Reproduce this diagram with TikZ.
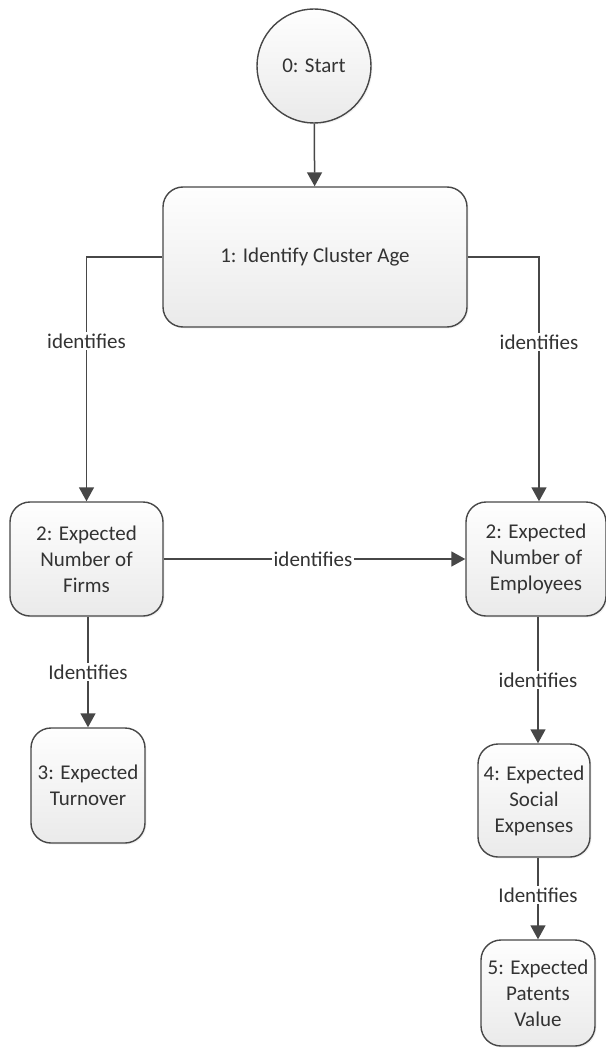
\documentclass[tikz,border=0pt]{standalone}
\usepackage{fontspec}
\setmainfont{Carlito}
\usetikzlibrary{arrows.meta,shadows}

\definecolor{ink}{HTML}{333333}
\definecolor{edge}{HTML}{474747}
\definecolor{boxtop}{HTML}{FEFEFE}
\definecolor{boxbot}{HTML}{EAEAEA}

\tikzset{
  procbox/.style={draw=edge, line width=1.4pt, rounded corners=20pt,
    top color=boxtop, bottom color=boxbot, text=ink,
    align=center, inner sep=2pt,
    font=\fontsize{21}{26}\selectfont,
    drop shadow={opacity=0.10, shadow xshift=1.5pt, shadow yshift=-1.5pt}},
  startnode/.style={procbox, circle, rounded corners=0pt},
  link/.style={draw=edge, line width=1.5pt,
    -{Triangle[length=14pt,width=15pt]}},
  linklabel/.style={fill=white, text=ink, inner sep=1.5pt,
    font=\fontsize{21}{26}\selectfont}
}

\begin{document}
\begin{tikzpicture}[x=1pt,y=-1pt]
  \useasboundingbox (0,0) rectangle (605,1048);

  % process steps
  \node[startnode, minimum size=114pt] (s0) at (314,66) {0: Start};
  \node[procbox, minimum width=304pt, minimum height=140pt] (b1) at (315,257) {1: Identify Cluster Age};
  \node[procbox, minimum width=153pt, minimum height=114pt] (firms) at (86.5,559) {2: Expected\\Number of\\Firms};
  \node[procbox, minimum width=140pt, minimum height=114pt] (empl) at (536,559) {2: Expected\\Number of\\Employees};
  \node[procbox, minimum width=114pt, minimum height=115pt] (turn) at (88,785.5) {3: Expected\\Turnover};
  \node[procbox, minimum width=112pt, minimum height=113pt] (social) at (534,800.5) {4: Expected\\Social\\Expenses};
  \node[procbox, minimum width=114pt, minimum height=106pt] (patent) at (538,993) {5: Expected\\Patents\\Value};

  % relations
  \draw[link] (s0) -- (b1);
  \draw[link] (b1.west) -| node[linklabel, pos=0.672] {identifies} (firms.north);
  \draw[link] (b1.east) -| node[linklabel, pos=0.674] {identifies} ([xshift=3pt]empl.north);
  \draw[link] (firms.east) -- node[linklabel, pos=0.495] {identifies} (empl.west);
  \draw[link] (firms.south -| turn.north) -- node[linklabel] {Identifies} (turn.north);
  \draw[link] (empl.south -| patent.north) -- node[linklabel] {identifies} (social.north -| patent.north);
  \draw[link] (social.south -| patent.north) -- node[linklabel, pos=0.46] {Identifies} (patent.north);
\end{tikzpicture}
\end{document}
